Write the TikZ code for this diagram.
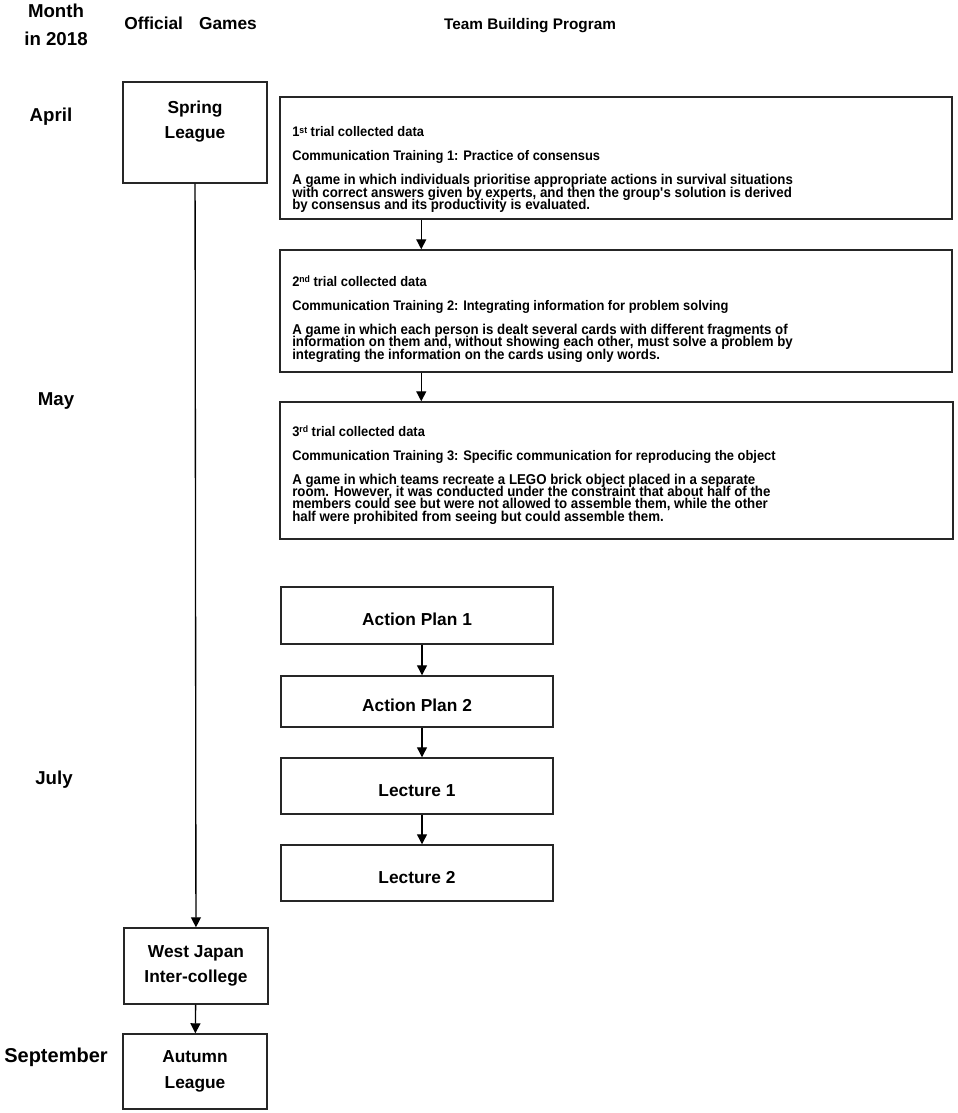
\documentclass[tikz,border=0pt]{standalone}
\usepackage{fontspec}
\setmainfont{Liberation Sans}
\newfontfamily\narrowfont{Liberation Sans}[FakeStretch=0.93]
\usetikzlibrary{arrows.meta}
\newcommand\trialfont{\narrowfont\bfseries\fontsize{10.7}{9.15}\selectfont\lineskiplimit-20pt\relax}
\newcommand\trialhead[1]{{\fontsize{10.4}{9.15}\selectfont #1}}
\newcommand\ord[1]{\raisebox{2.6pt}{\fontsize{7}{7}\selectfont #1}}

\tikzset{
	month/.style={font=\bfseries\fontsize{14}{20.8}\selectfont, align=center, inner sep=0pt},
	head/.style={font=\bfseries\fontsize{13}{16}\selectfont, inner sep=0pt},
	gamebox/.style={draw=black!85, line width=1.1pt, inner sep=0pt, minimum width=108pt, align=center, font=\bfseries\fontsize{13}{19}\selectfont},
	trialbox/.style={draw=black!85, line width=1.1pt, inner sep=0pt},
	trialtext/.style={anchor=base west, align=left, inner sep=0pt, font=\trialfont},
	planbox/.style={draw=black!85, line width=1.1pt, inner sep=0pt, minimum width=204pt, font=\bfseries\fontsize{13}{16}\selectfont, text height=15pt, text depth=0pt},
	arr/.style={-{Triangle[width=7.5pt,length=7.5pt]}, line width=1pt}
}

\begin{document}
\begin{tikzpicture}[x=0.75pt,y=-0.75pt]
	\useasboundingbox (0,0) rectangle (957,1113);
	% column heads
	\node[month, anchor=north] (mhead) at (56,4) {Month\\in 2018};
	\node[head, anchor=base west] (ghead) at (124,30) {Official\hspace{12pt}Games};
	\node[head, anchor=base, font=\bfseries\fontsize{11.5}{14}\selectfont] (thead) at (530,30) {Team Building Program};
	% months
	\node[month, anchor=base] (apr) at (51,121) {April};
	\node[month, anchor=base] (may) at (56,405) {May};
	\node[month, anchor=base] (jul) at (54,784) {July};
	\node[month, anchor=base, font=\bfseries\fontsize{15}{20.8}\selectfont] (sep) at (56,1062) {September};
	% official games
	\node[gamebox, minimum height=75.75pt] (spring) at (195,132.5) {};
	\node[gamebox, draw=none, anchor=north] (springtxt) at (195,100) {Spring\\League};
	\node[gamebox, minimum height=57pt] (west) at (196,966) {West Japan\\Inter-college};
	\node[gamebox, minimum height=56.25pt] (autumn) at (195,1071.5) {Autumn\\League};
	\draw[arr] (spring) -- (west);
	\draw[arr] (west) -- (autumn);
	% trials (text anchored near the baseline of its last line)
	\node[trialbox, minimum width=504pt, minimum height=91.5pt] (b1) at (616,158) {};
	\node[trialtext] (t1) at (292,209.3) {\trialhead{1\ord{st} trial collected data}\\[9pt]
		\trialhead{Communication Training 1: Practice of consensus}\\[9pt]
		A game in which individuals prioritise appropriate actions in survival situations\\
		with correct answers given by experts, and then the group\textquotesingle s solution is derived\\
		by consensus and its productivity is evaluated.};
	\node[trialbox, minimum width=504pt, minimum height=91.5pt] (b2) at (616,311) {};
	\node[trialtext] (t2) at (292,359) {\trialhead{2\ord{nd} trial collected data}\\[9pt]
		\trialhead{Communication Training 2: Integrating information for problem solving}\\[9pt]
		A game in which each person is dealt several cards with different fragments of\\
		information on them and, without showing each other, must solve a problem by\\
		integrating the information on the cards using only words.};
	\node[trialbox, minimum width=504.75pt, minimum height=102.75pt] (b3) at (616.5,470.5) {};
	\node[trialtext] (t3) at (292,521) {\trialhead{3\ord{rd} trial collected data}\\[9pt]
		\trialhead{Communication Training 3: Specific communication for reproducing the object}\\[9pt]
		A game in which teams recreate a LEGO brick object placed in a separate\\
		room. However, it was conducted under the constraint that about half of the\\
		members could see but were not allowed to assemble them, while the other\\
		half were prohibited from seeing but could assemble them.};
	\draw[arr] ([xshift=106.5pt]b1.south west) -- ([xshift=106.5pt]b2.north west);
	\draw[arr] ([xshift=106.5pt]b2.south west) -- ([xshift=106.5pt]b3.north west);
	% plans and lectures
	\node[planbox, minimum height=42.75pt] (ap1) at (417,615.5) {Action Plan 1};
	\node[planbox, minimum height=38.25pt] (ap2) at (417,701.5) {Action Plan 2};
	\node[planbox, minimum height=42pt] (l1) at (417,786) {Lecture 1};
	\node[planbox, minimum height=42pt] (l2) at (417,873) {Lecture 2};
	\foreach \a/\b in {ap1/ap2,ap2/l1,l1/l2}{
		\draw[arr] ([xshift=3.75pt]\a.south) -- ([xshift=3.75pt]\b.north);
	}
\end{tikzpicture}
\end{document}
